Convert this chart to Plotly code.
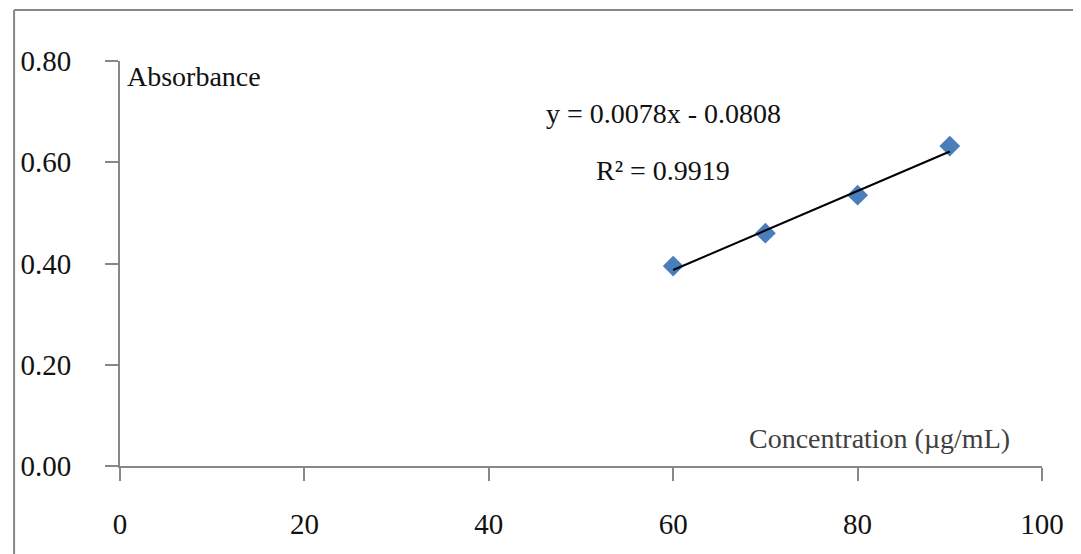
import plotly.graph_objects as go

# Data
concentration = [60, 70, 80, 90]
absorbance = [0.395, 0.460, 0.535, 0.632]
slope = 0.0078
intercept = -0.0808
r_squared = 0.9919
x_ticks = [0, 20, 40, 60, 80, 100]
y_ticks = [0.0, 0.2, 0.4, 0.6, 0.8]

OFF = 8  # page body margin
W, H = 1081 - OFF, 554 - OFF
PW, PH = 927, 405
ML, MT = 115 - OFF, 61 - OFF
MR, MB = W - ML - PW, H - MT - PH

def px_x(p):
    return (p - OFF - ML) / PW

def px_y(p):
    return (MT + PH - (p - OFF)) / PH

trend_x = [min(concentration), max(concentration)]
trend_y = [slope * v + intercept for v in trend_x]

FONT = "Liberation Serif, Times New Roman, serif"
AXC = "#878787"
FT = 29
FA = 28

fig = go.Figure()
fig.add_trace(go.Scatter(
    x=concentration, y=absorbance, mode="markers",
    marker=dict(symbol="diamond", size=16, color="#4A7EBB", line=dict(width=0)),
    showlegend=False, hoverinfo="x+y"))
fig.add_trace(go.Scatter(
    x=trend_x, y=trend_y, mode="lines",
    line=dict(color="black", width=2), showlegend=False, hoverinfo="skip"))

fig.update_layout(
    width=W, height=H,
    margin=dict(l=ML, r=MR, t=MT, b=MB, pad=0),
    paper_bgcolor="white", plot_bgcolor="white",
    font=dict(family=FONT, size=FT, color="#111111"),
    xaxis=dict(range=[0, 100], tickvals=x_ticks, showgrid=False, zeroline=False,
               showline=True, linecolor=AXC, linewidth=2,
               ticks="outside", ticklen=13, tickcolor=AXC, tickwidth=2,
               ticklabelstandoff=18,
               tickfont=dict(family=FONT, size=FT, color="#111111")),
    yaxis=dict(range=[0, 0.8], tickvals=y_ticks, tickformat=".2f", showgrid=False,
               zeroline=False, showline=True, linecolor=AXC, linewidth=2,
               ticks="outside", ticklen=13, tickcolor=AXC, tickwidth=2,
               ticklabelstandoff=28,
               tickfont=dict(family=FONT, size=FT, color="#111111")),
    annotations=[
        dict(text="Absorbance", xref="paper", yref="paper", x=px_x(120), y=px_y(76),
             xanchor="left", yanchor="middle", showarrow=False,
             font=dict(family=FONT, size=FA, color="#111111")),
        dict(text="y = 0.0078x - 0.0808", xref="paper", yref="paper", x=px_x(661), y=px_y(113),
             xanchor="center", yanchor="middle", showarrow=False,
             font=dict(family=FONT, size=FA, color="#111111")),
        dict(text="R² = 0.9919", xref="paper", yref="paper", x=px_x(661), y=px_y(170),
             xanchor="center", yanchor="middle", showarrow=False,
             font=dict(family=FONT, size=FA, color="#111111")),
        dict(text="Concentration (µg/mL)", xref="paper", yref="paper", x=px_x(1012), y=px_y(438),
             xanchor="right", yanchor="middle", showarrow=False,
             font=dict(family=FONT, size=FA, color="#404040")),
    ],
    shapes=[
        dict(type="line", xref="paper", yref="paper", x0=px_x(8.5), x1=px_x(1100),
             y0=px_y(10), y1=px_y(10), line=dict(color=AXC, width=2)),
        dict(type="line", xref="paper", yref="paper", x0=px_x(8.5), x1=px_x(8.5),
             y0=px_y(10), y1=px_y(580), line=dict(color=AXC, width=2)),
    ],
)

fig.write_html("out.html")
